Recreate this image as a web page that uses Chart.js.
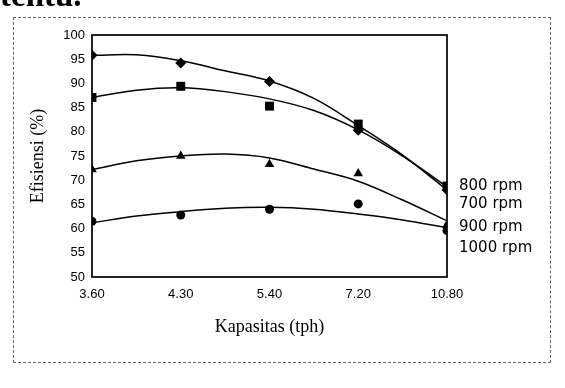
<!DOCTYPE html>
<html>
<head>
<meta charset="utf-8">
<script src="https://cdn.jsdelivr.net/npm/chart.js@4"></script>
<style>
  html, body { margin: 0; padding: 0; background: #fff; }
  #wrap { position: relative; width: 565px; height: 388px; overflow: hidden; }
  #frame { position: absolute; left: 13px; top: 17px; width: 536px; height: 344px;
           border: 1px dashed #666; pointer-events: none; }
  canvas { position: absolute; left: 0; top: 0; }
</style>
</head>
<body>
<div id="wrap">
  <canvas id="c" width="565" height="388"></canvas>
  <div id="frame"></div>
</div>
<script>
// Categories (Kapasitas, tph)
const categories = ['3.60', '4.30', '5.40', '7.20', '10.80'];
const catIndex = [0, 1, 2, 3, 4];

// Measured efficiency (%) per rpm
const eff700  = [95.8, 94.2, 90.4, 80.3, 68.0];
const eff800  = [87.1, 89.4, 85.3, 81.6, 68.8];
const eff900  = [72.2, 75.0, 73.3, 71.4, 60.8];
const eff1000 = [61.5, 62.8, 64.0, 65.1, 59.6];

// Trend curves at half-category steps
const trendX     = [0, 0.5, 1, 1.5, 2, 2.5, 3, 3.5, 4];
const trend700   = [95.8, 95.9, 94.7, 92.6, 90.5, 86.9, 81.3, 75.2, 68.0];
const trend800   = [87.1, 88.6, 89.1, 88.3, 86.8, 84.4, 80.4, 75.0, 68.6];
const trend900   = [72.2, 74.0, 75.0, 75.4, 74.6, 72.3, 69.8, 65.9, 61.6];
const trend1000  = [61.2, 62.6, 63.5, 64.2, 64.4, 64.0, 63.0, 61.8, 60.2];

const seriesLabels = ['800 rpm', '700 rpm', '900 rpm', '1000 rpm'];
const yTickMin = 50, yTickMax = 100, yTickStep = 5;

const pts = (xs, ys) => xs.map((x, i) => ({ x: x, y: ys[i] }));

const markerDs = (data, style, r) => ({
  type: 'scatter', data: pts(catIndex, data), showLine: false,
  pointStyle: style, pointRadius: r, pointHoverRadius: r,
  backgroundColor: '#000', borderColor: '#000', borderWidth: 0, order: 1
});
const trendDs = (data) => ({
  type: 'line', data: pts(trendX, data), showLine: true,
  borderColor: '#000', borderWidth: 1.5, pointRadius: 0, tension: 0.35,
  fill: false, order: 2
});

const framePlugin = {
  id: 'frame',
  afterDatasetsDraw(chart) {
    const { ctx, chartArea: a, scales } = chart;
    ctx.save();
    ctx.strokeStyle = '#000';
    ctx.lineWidth = 1.7;
    ctx.strokeRect(a.left, a.top, a.right - a.left, a.bottom - a.top);
    // right-side labels
    ctx.fillStyle = '#000';
    ctx.font = '15px "DejaVu Sans"';
    ctx.textBaseline = 'middle';
    ctx.textAlign = 'left';
    const labelVals = [68.8, 65.1, 60.4, 56.0];
    seriesLabels.forEach((t, i) => {
      ctx.fillText(t, a.right + 12, scales.y.getPixelForValue(labelVals[i]));
    });
    // clipped page text above chart
    ctx.font = 'bold 33px "Liberation Serif"';
    ctx.textBaseline = 'alphabetic';
    ctx.fillText('tentu.', 0, 6);
    ctx.restore();
  }
};

new Chart(document.getElementById('c'), {
  type: 'scatter',
  data: {
    datasets: [
      trendDs(trend700), trendDs(trend800), trendDs(trend900), trendDs(trend1000),
      markerDs(eff700, 'rectRot', 5.5),
      markerDs(eff800, 'rect', 6.3),
      markerDs(eff900, 'triangle', 5.5),
      markerDs(eff1000, 'circle', 4.5)
    ]
  },
  options: {
    responsive: false,
    animation: false,
    devicePixelRatio: 1,
    layout: { padding: { left: 0, top: 35, right: 118, bottom: 41 } },
    plugins: { legend: { display: false }, tooltip: { enabled: false } },
    scales: {
      x: {
        type: 'linear', min: 0, max: 4,
        grid: { display: false, drawTicks: false }, border: { display: false },
        ticks: {
          stepSize: 1, padding: 10, maxRotation: 0, autoSkip: false,
          color: '#000', font: { family: 'Liberation Sans', size: 13 },
          callback: (v) => categories[v] !== undefined ? categories[v] : ''
        },
        title: {
          display: true, text: 'Kapasitas (tph)', color: '#000',
          font: { family: 'Liberation Serif', size: 18 }, padding: { top: 0, bottom: 9 }
        },
        afterFit: (s) => { s.height = 70; }
      },
      y: {
        min: yTickMin, max: yTickMax,
        grid: { display: false, drawTicks: false }, border: { display: false },
        ticks: {
          stepSize: yTickStep, padding: 7, color: '#000',
          font: { family: 'Liberation Sans', size: 13 }
        },
        title: {
          display: true, text: 'Efisiensi (%)', color: '#000',
          font: { family: 'Liberation Serif', size: 18 }, padding: { top: 27, bottom: 0 }
        },
        afterFit: (s) => { s.width = 92; }
      }
    }
  },
  plugins: [framePlugin]
});
</script>
</body>
</html>
